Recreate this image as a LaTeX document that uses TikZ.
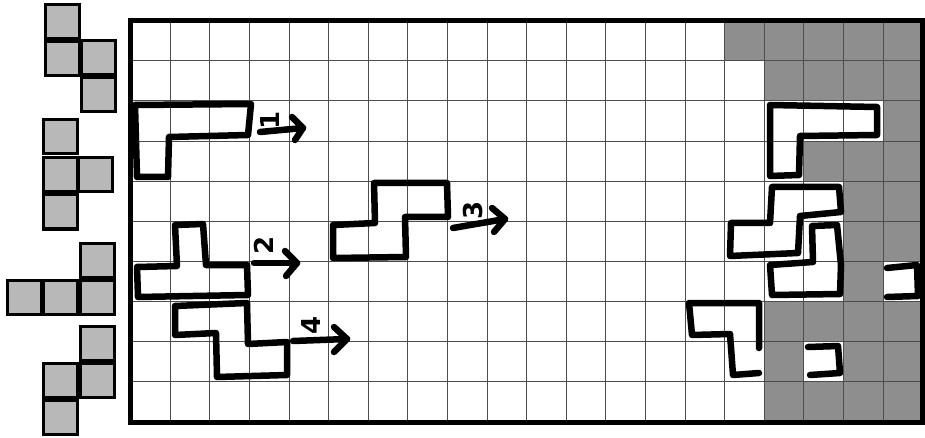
\documentclass[tikz,border=0pt]{standalone}
\usepackage{fontspec}
\setsansfont{DejaVu Sans}
\begin{document}
\begin{tikzpicture}[x=1pt,y=-1pt,
  tile/.style={draw=black,line width=3pt,fill=palgray},
  shade/.style={fill=cellgray},
  gridline/.style={draw=black!70,line width=0.8pt},
  frame/.style={draw=black,line width=5pt},
  pen/.style={draw=black,line width=6.5pt,line join=round,line cap=round},
  digit/.style={font=\sffamily\bfseries\fontsize{26}{26}\selectfont,rotate=90,inner sep=0pt}]
\definecolor{palgray}{HTML}{B8B8B8}
\definecolor{cellgray}{HTML}{8E8E8E}
\useasboundingbox (0,0) rectangle (925,438);
\fill[white] (0,0) rectangle (925,438);
% palette pieces
\foreach \x/\y in {45/5,45/42,81/41,81/78, 43/120,43/158,78/158,43/195, 80/243,7/280,43/280,80/280, 80/326,43/363,80/363,43/400}
  \draw[tile] (\x,\y) rectangle ++(34,34);
% shaded cells
\foreach \c/\r in {15/0,16/0,17/0,18/0,19/0, 16/1,17/1,18/1,19/1, 19/2, 17/3,18/3,19/3, 18/4,19/4, 18/5,19/5, 18/6, 16/7,17/7,18/7,19/7, 16/8,18/8,19/8, 16/9,17/9,18/9,19/9}
  \fill[shade] ({130.5+39.6*\c},{20.5+40.15*\r}) rectangle ++(39.6,40.15);
% grid lines
\foreach \i in {1,...,19}
  \draw[gridline] ({130.5+39.6*\i},20.5) -- ({130.5+39.6*\i},422);
\foreach \j in {1,...,9}
  \draw[gridline] (130.5,{20.5+40.15*\j}) -- (922.5,{20.5+40.15*\j});
\draw[frame] (130.5,20.5) rectangle (922.5,422);
% hand-drawn pieces (left)
\draw[pen] (135,105) -- (251,104) -- (248,135) -- (169,137) -- (168,177) -- (137,177) -- cycle;
\draw[pen] (138,297) -- (137,267) -- (177,266) -- (175,225) -- (203,224) -- (206,265) -- (247,265) -- (248,295) -- cycle;
\draw[pen] (175,306) -- (247,303) -- (248,344) -- (287,342) -- (287,375) -- (217,377) -- (216,333) -- (175,335) -- cycle;
\draw[pen] (333,225) -- (375,223) -- (374,183) -- (447,183) -- (448,217) -- (405,217) -- (406,257) -- (333,258) -- cycle;
% hand-drawn pieces (right)
\draw[pen] (770,105) -- (877,107) -- (877,135) -- (800,136) -- (799,175) -- (770,176) -- cycle;
\draw[pen] (772,187) -- (839,187) -- (841,212) -- (800,216) -- (798,253) -- (730,256) -- (731,223) -- (770,223) -- cycle;
\draw[pen] (812,226) -- (837,225) -- (841,265) -- (840,294) -- (772,295) -- (770,265) -- (813,262) -- cycle;
\draw[pen] (887,268) -- (917,265) -- (918,296) -- (887,297);
\draw[pen] (759,348) -- (759,303) -- (689,303) -- (692,335) -- (730,334) -- (733,375) -- (759,373);
\draw[pen] (808,347) -- (838,346) -- (840,373) -- (810,375);
% arrows with labels
\coordinate (a1s) at (260,132); \coordinate (a1t) at (303,128);
\coordinate (a1u) at (292,117); \coordinate (a1d) at (295,140);
\draw[pen] (a1s) -- (a1t); \draw[pen] (a1u) -- (a1t) -- (a1d);
\node[digit] (n1) at (270,120) {1};
\coordinate (a2s) at (254,263); \coordinate (a2t) at (297,263);
\coordinate (a2u) at (285,251); \coordinate (a2d) at (286,276);
\draw[pen] (a2s) -- (a2t); \draw[pen] (a2u) -- (a2t) -- (a2d);
\node[digit] (n2) at (264,245) {2};
\coordinate (a3s) at (453,228); \coordinate (a3t) at (505,219);
\coordinate (a3u) at (492,208); \coordinate (a3d) at (494,232);
\draw[pen] (a3s) -- (a3t); \draw[pen] (a3u) -- (a3t) -- (a3d);
\node[digit] (n3) at (473,210) {3};
\coordinate (a4s) at (293,341); \coordinate (a4t) at (347,339);
\coordinate (a4u) at (334,327); \coordinate (a4d) at (334,352);
\draw[pen] (a4s) -- (a4t); \draw[pen] (a4u) -- (a4t) -- (a4d);
\node[digit] (n4) at (311,325) {4};
\end{tikzpicture}
\end{document}
